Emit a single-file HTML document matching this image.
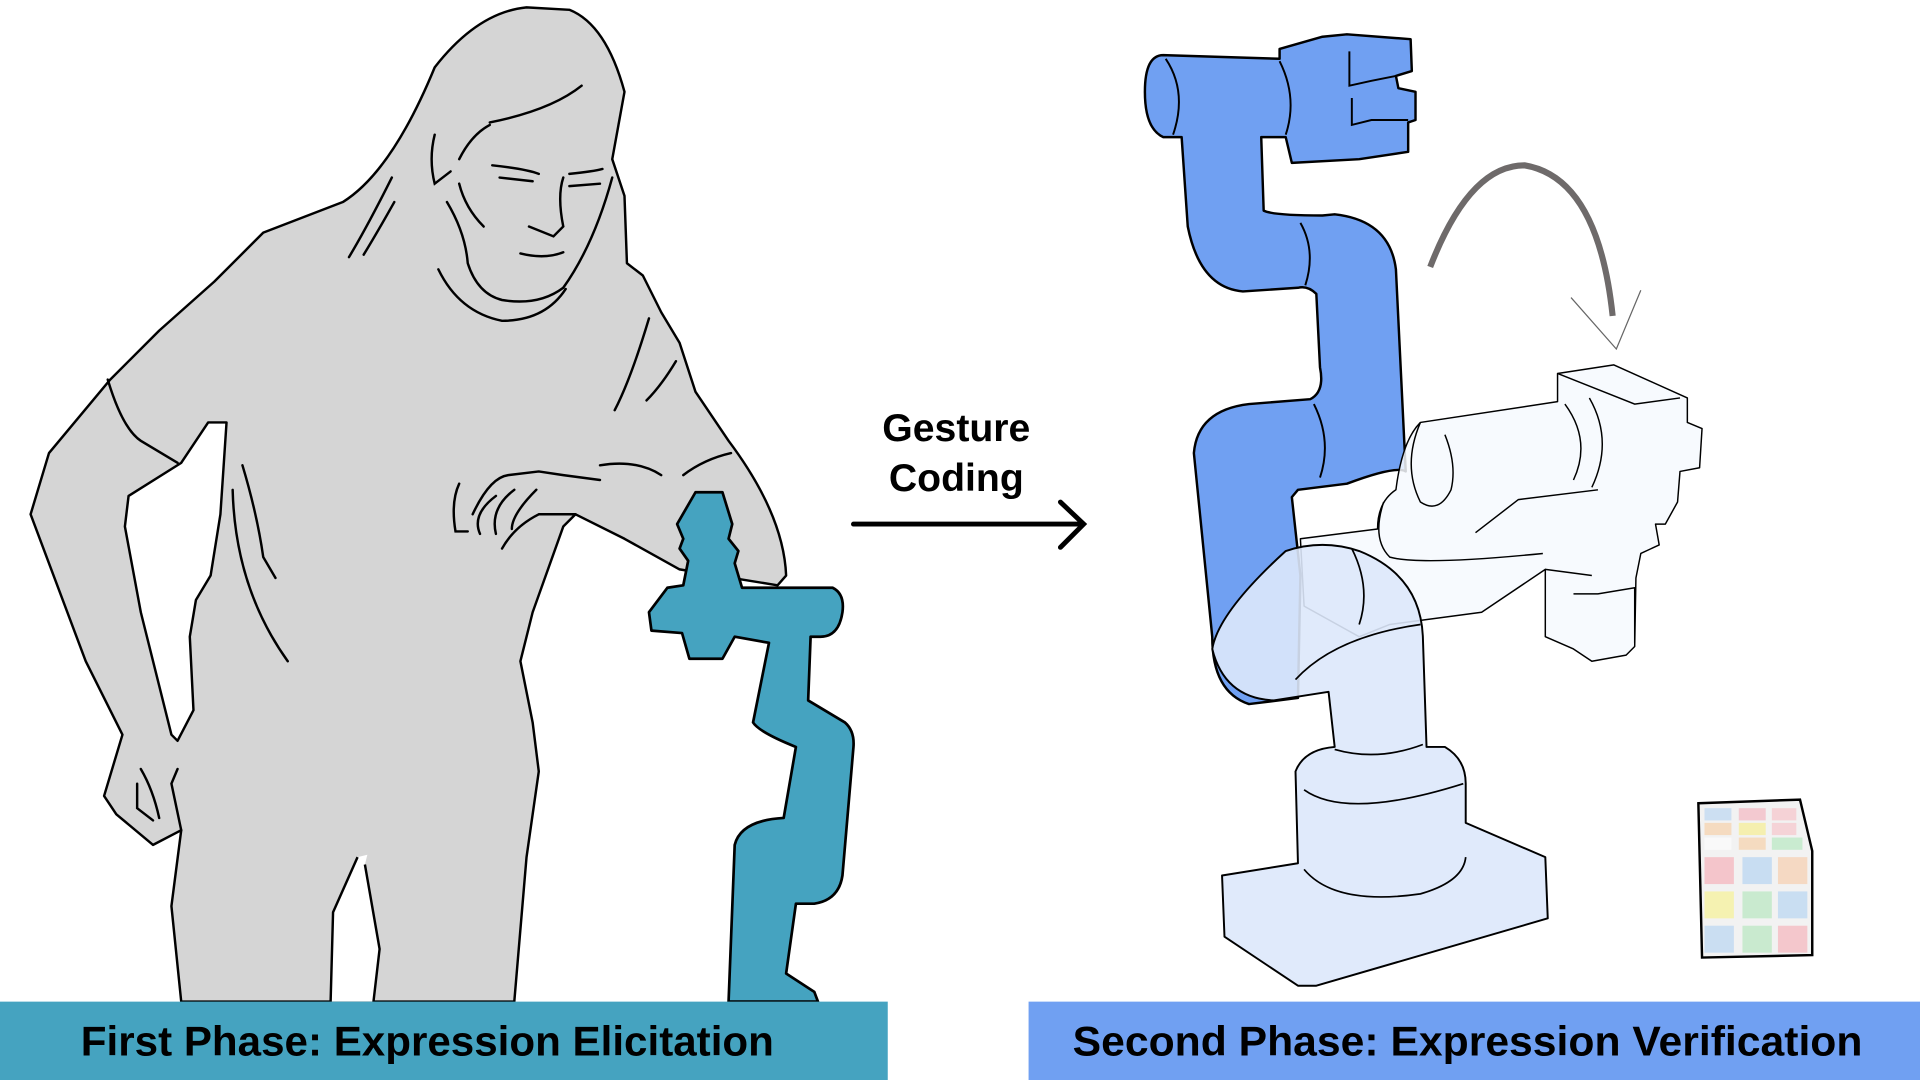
<!DOCTYPE html>
<html><head><meta charset="utf-8"><style>
html,body{margin:0;padding:0;background:#fff;width:1920px;height:1080px;overflow:hidden}
svg{display:block}
text{font-family:"Liberation Sans",sans-serif;font-weight:bold}
</style></head><body>
<svg width="1920" height="1080" viewBox="0 0 1568 882" xmlns="http://www.w3.org/2000/svg">
<rect width="1568" height="882" fill="#fff"/>
<!-- person -->
<g stroke="#000" stroke-width="2" fill="#d5d5d5" stroke-linejoin="round">
<path d="M148,818 L140,740 L148,678 L125,690 L95,665 L85,650 L100,600 L70,540 L25,420 L40,370 L90,310 L130,270 L175,230 L215,190 L280,165 Q320,140 355,55 Q390,10 430,6 L465,8 Q495,20 510,75 L500,130 L510,160 L512,215 L525,225 L540,255 L555,280 L568,320 L595,360 Q640,420 642,470 L635,478 L555,465 L510,440 L470,420 L460,430 L435,500 L425,540 L435,590 L440,630 L430,700 L420,818 Z"/>
<path d="M185,345 L170,345 L148,378 L105,405 L102,430 L115,500 L140,600 L145,605 L158,580 L155,520 L160,490 L172,470 L180,420 Z" fill="#fff"/>
<path d="M270,818 L272,745 L292,700 L300,698 L298,706 L310,775 L305,818 Z" fill="#fff" stroke="none"/>
<path d="M270,818 L272,745 L292,700 M298,706 L310,775 L305,818" fill="none"/>
</g>
<g stroke="#000" stroke-width="2" fill="none" stroke-linecap="round">
<path d="M400,100 Q450,90 475,70"/><path d="M375,130 Q385,110 400,102"/>
<path d="M402,135 Q430,138 440,142"/><path d="M408,145 L435,148"/>
<path d="M465,142 Q485,140 492,138"/><path d="M465,152 L490,150"/>
<path d="M460,145 Q455,160 460,185 L452,193 L432,185"/><path d="M425,207 Q445,212 460,206"/>
<path d="M365,165 Q380,190 382,215 Q390,240 410,245 Q440,250 460,235"/>
<path d="M358,220 Q375,255 410,262 Q445,262 462,236"/>
<path d="M500,145 Q485,200 460,235"/>
<path d="M395,185 Q380,170 375,150"/><path d="M355,110 Q350,130 355,150 L368,140"/>
<path d="M320,145 Q300,185 285,210"/><path d="M322,165 Q308,190 297,208"/>
<path d="M88,310 Q100,350 115,360 L145,378"/>
<path d="M198,380 Q210,420 215,455 L225,472"/><path d="M190,400 Q192,480 235,540"/>
<path d="M530,260 Q515,310 502,335"/><path d="M552,295 Q540,315 528,327"/>
<path d="M410,448 Q420,430 440,420 L470,420 M386,420 Q400,390 415,388 L440,385 L460,388 L490,392"/>
<path d="M405,405 Q385,420 392,436 M420,400 Q400,415 405,436 M438,400 Q418,420 418,432"/>
<path d="M375,395 Q368,410 372,434 L382,434"/>
<path d="M490,380 Q520,375 540,388 M558,388 Q575,375 597,370"/>
<path d="M112,640 L112,660 L125,670 M115,628 Q125,645 130,668 M145,628 L140,640 L148,678"/>
</g>
<!-- teal robot -->
<path d="M595,818 L600,690 Q605,670 640,668 L650,610 Q620,598 615,590 L628,525 L600,520 L590,538 L563,538 L557,517 L532,515 L530,500 L545,480 L558,478 L562,458 L555,448 L558,440 L553,428 L568,402 L590,402 L598,428 L595,440 L603,450 L600,460 L606,480 L680,480 Q690,485 688,500 Q685,520 670,520 L662,520 L660,572 L690,590 Q698,597 697,610 L688,715 Q685,735 665,738 L650,738 L642,795 L665,810 L668,818 Z" fill="#45a3c0" stroke="#000" stroke-width="2.2" stroke-linejoin="round"/>
<!-- arrow & label -->
<text x="781" y="360" font-size="32" text-anchor="middle" fill="#000">Gesture</text>
<text x="781" y="401" font-size="32" text-anchor="middle" fill="#000">Coding</text>
<path d="M697,428 L884,428 M866,410 L885,428 L866,447" stroke="#000" stroke-width="4" fill="none" stroke-linecap="round"/>
<!-- blue robot -->
<g stroke="#000" stroke-width="2" stroke-linejoin="round" fill="#70a0f2">
<path d="M950,45 L1045,48 L1045,40 L1080,30 L1100,28 L1152,32 L1153,58 L1140,62 L1142,72 L1156,75 L1156,98 L1150,100 L1150,124 L1110,130 L1055,133 L1050,112 L1030,112 L1032,172 Q1040,176 1080,176 L1090,175 Q1135,180 1140,220 L1148,385 Q1140,380 1100,395 L1060,400 L1055,406 L1062,470 L1060,570 L1020,575 Q990,565 990,520 L975,370 Q978,335 1020,330 L1070,326 Q1082,320 1078,300 L1075,240 Q1068,233 1060,235 L1015,238 Q980,235 970,185 L965,112 L950,112 Q935,105 935,75 Q935,45 950,45 Z"/>
</g>
<g stroke="#000" stroke-width="1.6" fill="none">
<path d="M952,48 Q970,75 958,110 M1045,50 Q1060,80 1050,110 M1062,182 Q1075,205 1066,233 M1073,330 Q1088,360 1078,390"/>
<path d="M1102,42 L1102,70 L1120,66 L1140,62 M1104,80 L1104,102 L1120,98 L1150,98"/>
</g>
<!-- ghost white arm -->
<g stroke="#000" stroke-width="1.2" fill="#f6f9fe" fill-opacity="0.85" stroke-linejoin="round">
<path d="M1062,440 L1125,432 Q1125,410 1140,400 Q1145,360 1160,345 L1272,328 L1272,305 L1318,298 L1378,325 L1378,345 L1390,350 L1388,382 L1372,385 L1370,410 L1360,428 L1352,428 L1355,445 L1340,452 L1336,472 L1335,528 L1328,535 L1300,540 L1285,530 L1262,520 L1262,465 L1210,500 L1135,510 L1110,520 L1065,495 Z"/>
</g>
<g stroke="#000" stroke-width="1.2" fill="none">
<path d="M1272,305 L1335,330 L1372,325 M1160,345 Q1145,380 1160,410 Q1175,420 1185,400 Q1190,380 1180,355 M1278,330 Q1300,360 1285,392 M1298,325 Q1318,360 1300,398 M1130,410 Q1120,440 1135,455 Q1160,462 1260,452 M1205,435 L1240,408 L1305,400 M1262,465 L1300,470 M1285,485 L1305,485 L1335,480 L1335,525"/>
</g>
<!-- curved arrow -->
<path d="M1168,218 Q1200,135 1245,135 Q1305,145 1317,258" stroke="#6e6a6a" stroke-width="5" fill="none"/>
<path d="M1283,243 L1320,285 L1340,237" stroke="#666" stroke-width="1" fill="none"/>
<!-- light blue lower arm -->
<g stroke="#000" stroke-width="1.6" fill="#dde8fb" fill-opacity="0.9" stroke-linejoin="round">
<path d="M998,715 L1060,705 L1058,630 Q1065,612 1090,610 L1085,565 L1040,572 Q1000,570 990,530 Q995,500 1050,450 Q1080,440 1110,450 Q1160,470 1162,520 L1165,610 L1180,610 Q1197,620 1197,640 L1197,672 L1262,700 L1264,750 L1075,805 L1060,805 L1000,765 Z"/>
</g>
<g stroke="#000" stroke-width="1.4" fill="none">
<path d="M1065,645 Q1100,670 1195,640 M1065,710 Q1090,740 1160,730 Q1195,720 1197,700 M1090,612 Q1125,622 1162,608 M1058,555 Q1090,520 1160,510 M1104,448 Q1120,480 1110,510"/>
</g>
<!-- cube -->
<g stroke="#000" stroke-width="2">
<path d="M1387,656 L1470,653 L1480,695 L1480,780 L1390,782 Z" fill="#f2f2f2"/>
</g>
<g opacity="0.55">
<rect x="1392" y="660" width="22" height="10" fill="#aed0f3"/><rect x="1420" y="660" width="22" height="10" fill="#f4a8b5"/><rect x="1447" y="660" width="20" height="10" fill="#f8b9c0"/>
<rect x="1392" y="672" width="22" height="10" fill="#f9c999"/><rect x="1420" y="672" width="22" height="10" fill="#f8ee7a"/><rect x="1447" y="672" width="20" height="10" fill="#f8bac2"/>
<rect x="1392" y="684" width="22" height="10" fill="#fff"/><rect x="1420" y="684" width="22" height="10" fill="#f8c999"/><rect x="1447" y="684" width="25" height="10" fill="#a8e6b5"/>
<rect x="1392" y="700" width="24" height="22" fill="#f6a2ad"/><rect x="1423" y="700" width="24" height="22" fill="#a6cdf3"/><rect x="1452" y="700" width="24" height="22" fill="#f9c69e"/>
<rect x="1392" y="728" width="24" height="22" fill="#f8f27c"/><rect x="1423" y="728" width="24" height="22" fill="#a8e4b4"/><rect x="1452" y="728" width="24" height="22" fill="#a8cff3"/>
<rect x="1392" y="756" width="24" height="22" fill="#aacff3"/><rect x="1423" y="756" width="24" height="22" fill="#a8e4b4"/><rect x="1452" y="756" width="24" height="22" fill="#f6a4ae"/>
</g>
<!-- banners -->
<rect x="0" y="818" width="725" height="64" fill="#45a3c0"/>
<rect x="840" y="818" width="728" height="64" fill="#70a0f2"/>
<text x="66" y="862" font-size="34" textLength="566" lengthAdjust="spacingAndGlyphs" fill="#000">First Phase: Expression Elicitation</text>
<text x="876" y="862" font-size="34" textLength="645" lengthAdjust="spacingAndGlyphs" fill="#000">Second Phase: Expression Verification</text>
</svg>
</body></html>
